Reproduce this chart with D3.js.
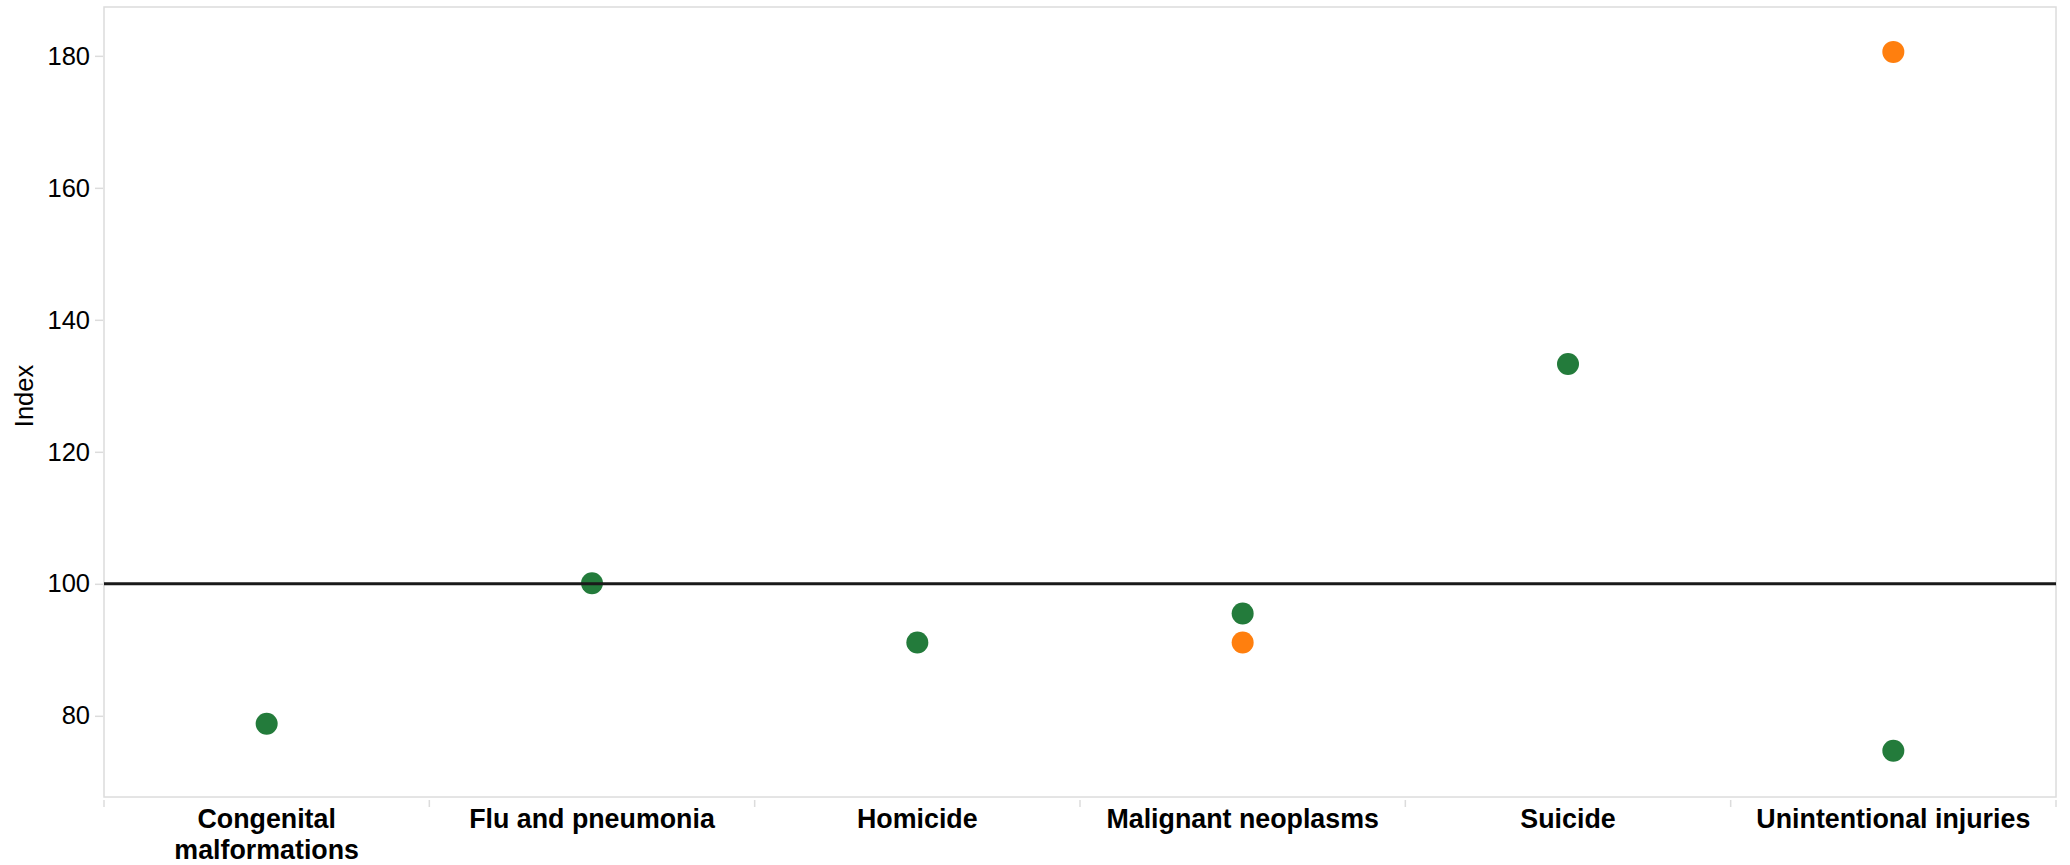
<!DOCTYPE html>
<html>
<head>
<meta charset="utf-8">
<script src="https://cdn.jsdelivr.net/npm/d3@7"></script>
<style>
  html, body { margin: 0; padding: 0; background: #fff; }
  svg { display: block; font-family: "Liberation Sans", Arial, sans-serif; }
</style>
</head>
<body>
<svg id="chart" width="2070" height="865"></svg>
<script>
// ---- data ----
const categories = ["Congenital malformations", "Flu and pneumonia", "Homicide", "Malignant neoplasms", "Suicide", "Unintentional injuries"];
const seriesNames = ["Group A", "Group B"];
const groupAValues = [78.8, 100.1, 91.1, 95.5, 133.3, 74.7];
const groupBValues = [null, null, null, 91.1, null, 180.6];
const yTickValues = [80, 100, 120, 140, 160, 180];
const referenceValue = 100;
const yDomain = [67.7, 187.4];
const yTitle = "Index";

(function () {
// ---- layout ----
const svg = d3.select("#chart");
const pLeft = 104, pRight = 2056, pTop = 7, pBottom = 797;
const colors = { "Group A": "#237b3b", "Group B": "#ff7f0e" };
const gridColor = "#dcdcdc";

const x = d3.scaleBand().domain(categories).range([pLeft, pRight]).padding(0);
const y = d3.scaleLinear().domain(yDomain).range([pBottom, pTop]);

// plot frame
svg.append("rect")
  .attr("x", pLeft).attr("y", pTop)
  .attr("width", pRight - pLeft).attr("height", pBottom - pTop)
  .attr("fill", "none").attr("stroke", gridColor).attr("stroke-width", 1.5);

// y axis
const yAxis = d3.axisLeft(y).tickValues(yTickValues).tickSize(8).tickPadding(5).tickFormat(d3.format("d"));
const gy = svg.append("g").attr("transform", `translate(${pLeft - 1},0)`).call(yAxis);
gy.select(".domain").remove();
gy.selectAll(".tick line").attr("stroke", gridColor).attr("stroke-width", 1.5);
gy.selectAll(".tick text").attr("font-size", 25.5).attr("fill", "#000").attr("font-family", "Liberation Sans, Arial, sans-serif");

svg.append("text")
  .attr("transform", `translate(33,${(pTop + pBottom) / 2 - 6}) rotate(-90)`)
  .attr("text-anchor", "middle")
  .attr("font-size", 25.5)
  .attr("fill", "#000")
  .text(yTitle);

// x axis: ticks at band boundaries
const boundaries = categories.map(c => x(c)).concat([pRight]);
svg.append("g").selectAll("line").data(boundaries).join("line")
  .attr("x1", d => d).attr("x2", d => d)
  .attr("y1", pBottom + 3).attr("y2", pBottom + 10)
  .attr("stroke", gridColor).attr("stroke-width", 1.5);

// category labels with wrapping
const labelG = svg.append("g");
categories.forEach(c => {
  const t = labelG.append("text")
    .attr("x", x(c) + x.bandwidth() / 2)
    .attr("y", pBottom + 31)
    .attr("text-anchor", "middle")
    .attr("font-size", 26.8)
    .attr("font-weight", "bold")
    .attr("fill", "#000");
  t.text(c);
  if (t.node().getComputedTextLength() > x.bandwidth() - 10) {
    t.text(null);
    const words = c.split(" ");
    words.forEach((w, i) => {
      t.append("tspan").attr("x", x(c) + x.bandwidth() / 2).attr("dy", i === 0 ? 0 : 31).text(w);
    });
  }
});

// points
const points = [];
categories.forEach((c, i) => {
  if (groupAValues[i] != null) points.push({ cat: c, series: seriesNames[0], v: groupAValues[i] });
  if (groupBValues[i] != null) points.push({ cat: c, series: seriesNames[1], v: groupBValues[i] });
});
svg.append("g").selectAll("circle").data(points).join("circle")
  .attr("cx", d => x(d.cat) + x.bandwidth() / 2)
  .attr("cy", d => y(d.v))
  .attr("r", 11)
  .attr("fill", d => colors[d.series]);

// reference line
svg.append("line")
  .attr("x1", pLeft).attr("x2", pRight)
  .attr("y1", y(referenceValue)).attr("y2", y(referenceValue))
  .attr("stroke", "#1a1a1a").attr("stroke-width", 3);
})();
</script>
</body>
</html>
